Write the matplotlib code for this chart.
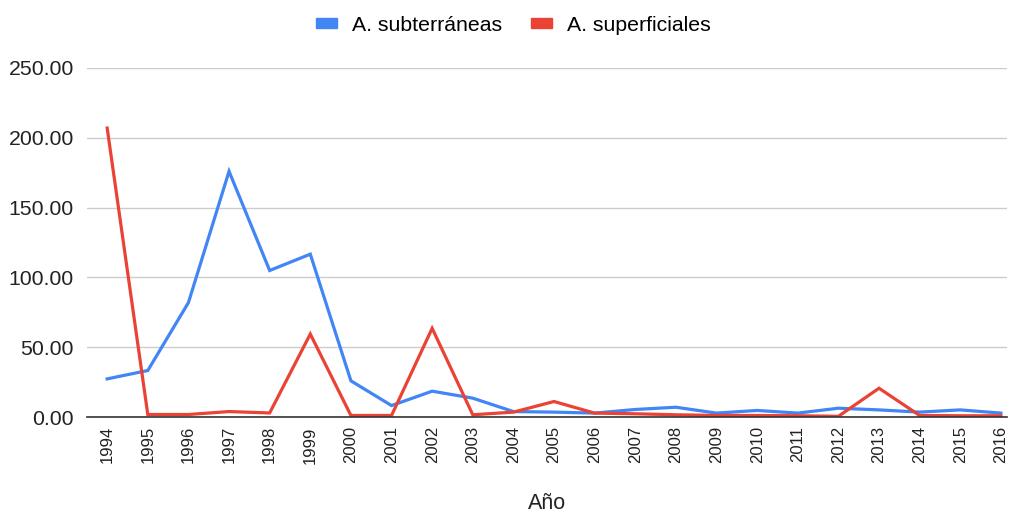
import numpy as np
import matplotlib
matplotlib.use("Agg")
import matplotlib.pyplot as plt
from matplotlib.patches import Patch
from matplotlib.ticker import FormatStrFormatter

plt.rcParams['font.family'] = ['Liberation Sans', 'DejaVu Sans']

years = [str(y) for y in range(1994, 2017)]
subterraneas = [27.4, 33.4, 82.0, 176.0, 105.0, 116.7, 26.0, 8.3, 18.6, 13.6, 4.0,
                3.6, 2.9, 5.5, 7.1, 2.9, 4.8, 2.9, 6.4, 5.2, 3.6, 5.2, 2.9]
superficiales = [207.0, 1.9, 1.9, 4.0, 3.0, 59.5, 1.2, 1.2, 63.6, 1.7, 3.6,
                 11.2, 2.9, 2.4, 1.7, 1.2, 1.2, 1.0, 0.6, 20.7, 1.2, 1.0, 1.0]

blue = '#4285F4'
red = '#EA4335'

fig = plt.figure(figsize=(10.1, 5.15), dpi=100)
ax = fig.add_axes([0.086, 0.19, 0.911, 0.678])

x = np.arange(len(years))
ax.plot(x, subterraneas, color=blue, lw=2.3, solid_joinstyle='miter', zorder=3)
ax.plot(x, superficiales, color=red, lw=2.3, solid_joinstyle='miter', zorder=4)

ax.set_xlim(-0.5, len(years) - 1 + 0.15)
ax.set_ylim(0, 250)
ax.set_yticks(np.arange(0, 251, 50))
ax.yaxis.set_major_formatter(FormatStrFormatter('%.2f'))
ax.set_xticks(x)
ax.set_xticklabels(years, rotation=90)

ax.grid(axis='y', color='#cccccc', lw=1)
ax.set_axisbelow(True)
for s in ['top', 'right', 'left']:
    ax.spines[s].set_visible(False)
ax.spines['bottom'].set_color('#333333')
ax.spines['bottom'].set_linewidth(1.2)
ax.spines['bottom'].set_zorder(5)
ax.tick_params(axis='y', length=0, pad=9.5, labelsize=15.3, labelcolor='#222222')
ax.tick_params(axis='x', length=0, pad=6.5, labelsize=12, labelcolor='#222222')

ax.set_xlabel('Año', fontsize=15.5, color='#222222', labelpad=21)

handles = [Patch(color=blue, label='A. subterráneas'),
           Patch(color=red, label='A. superficiales')]
fig.legend(handles=handles, loc='center', bbox_to_anchor=(0.508, 0.951), ncol=2,
           frameon=False, fontsize=15.3, handlelength=1.0, handleheight=0.3,
           handletextpad=0.7, columnspacing=1.35)

fig.savefig('out.png', dpi=100, facecolor='white')
